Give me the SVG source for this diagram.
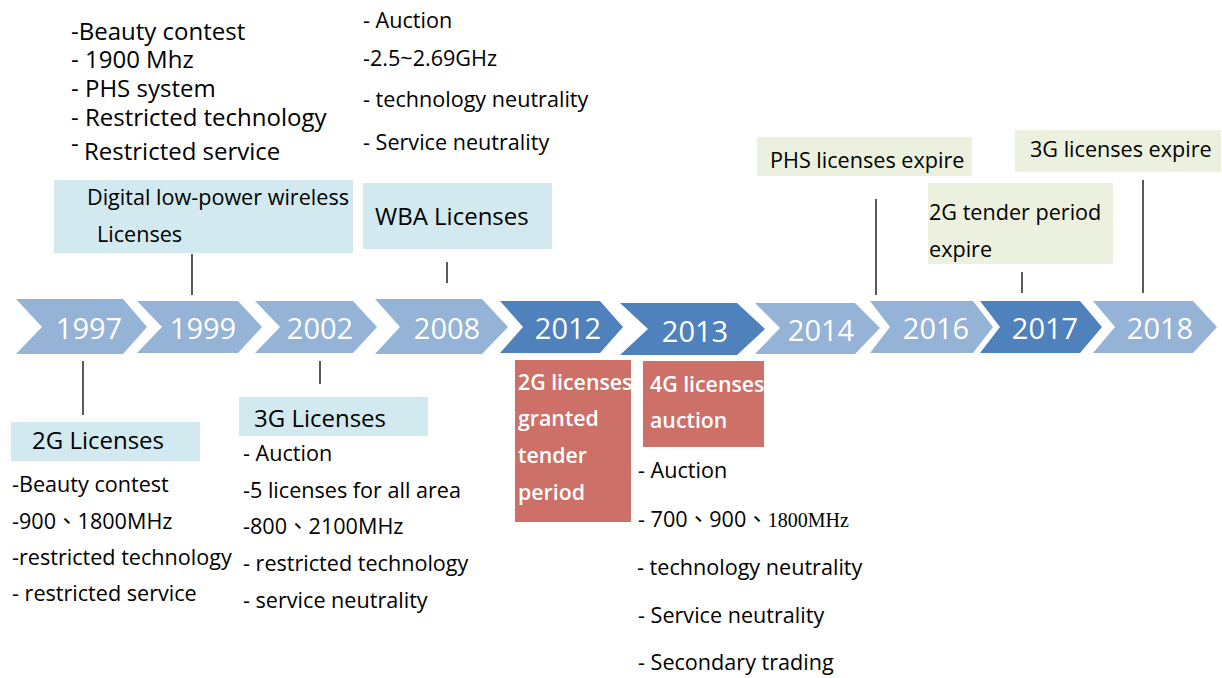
<svg xmlns="http://www.w3.org/2000/svg" width="1222" height="678" viewBox="0 0 1222 678">
<style>
text{font-family:"Open Sans","Noto Sans","Noto Sans CJK TC",sans-serif;fill:#000}
.yr{font-size:29px;fill:#fff;text-anchor:middle}
.lt{fill:#95B3D7}
.dk{fill:#4F81BD}
.bl{fill:#D2E9EF}
.gr{fill:#EBF1DE}
.rd{fill:#CD7068}
.t21{font-size:21.6px}
.t23{font-size:24px}
.w{fill:#fff;font-size:21.3px;font-weight:600}
.ln{stroke:#000;stroke-width:1.3;fill:none}
</style>
<rect width="1222" height="678" fill="#fff"/>
<g id="timeline">
<g id="y1997"><polygon class="lt" points="16,299 123,299 147,327 123,354 16,354 42,327"/><text class="yr" x="89" y="339">1997</text></g>
<g id="y1999"><polygon class="lt" points="137,301 238,301 262,327 238,353 137,353 162,327"/><text class="yr" x="203" y="339">1999</text></g>
<g id="y2002"><polygon class="lt" points="255,301 353,301 377,327 353,353 255,353 280,327"/><text class="yr" x="320" y="339">2002</text></g>
<g id="y2008"><polygon class="lt" points="375,299 482,299 508,327 482,354 375,354 400,327"/><text class="yr" x="447" y="339">2008</text></g>
<g id="y2012"><polygon class="dk" points="500,301 600,301 623,327 600,353 500,353 523,327"/><text class="yr" x="568" y="339">2012</text></g>
<g id="y2013"><polygon class="dk" points="620,303 737,303 765,329 737,355 620,355 648,329"/><text class="yr" x="695" y="342">2013</text></g>
<g id="y2014"><polygon class="lt" points="755,303 855,303 880,328 855,354 755,354 780,328"/><text class="yr" x="821" y="341">2014</text></g>
<g id="y2016"><polygon class="lt" points="870,301 973,301 993,327 973,353 870,353 890,327"/><text class="yr" x="936" y="339">2016</text></g>
<g id="y2017"><polygon class="dk" points="980,301 1080,301 1102,327 1080,353 980,353 1000,327"/><text class="yr" x="1045" y="339">2017</text></g>
<g id="y2018"><polygon class="lt" points="1093,301 1193,301 1217,327 1193,353 1093,353 1115,327"/><text class="yr" x="1160" y="339">2018</text></g>
</g>
<g id="connectors">
<line class="ln" x1="192" y1="254" x2="192" y2="295"/>
<line class="ln" x1="83" y1="361" x2="83" y2="415"/>
<line class="ln" x1="320" y1="361" x2="320" y2="384"/>
<line class="ln" x1="447" y1="262" x2="447" y2="283"/>
<line class="ln" x1="876" y1="199" x2="876" y2="295"/>
<line class="ln" x1="1022" y1="272" x2="1022" y2="293"/>
<line class="ln" x1="1143" y1="180" x2="1143" y2="293" stroke="#555"/>
</g>
<g id="list1999" class="t23">
<text x="71" y="40">-Beauty contest</text>
<text x="71" y="68">- 1900 Mhz</text>
<text x="71" y="97">- PHS system</text>
<text x="71" y="126">- Restricted technology</text>
<text x="71" y="160"><tspan dy="-8">-</tspan><tspan x="84" dy="8">Restricted service</tspan></text>
</g>
<g id="box1999"><rect class="bl" x="54" y="180" width="299" height="73"/><text class="t21" x="87" y="205">Digital low-power wireless</text><text class="t21" x="97" y="242">Licenses</text></g>
<g id="list2008" class="t21">
<text x="363" y="28">- Auction</text>
<text x="363" y="66">-2.5~2.69GHz</text>
<text x="363" y="107">- technology neutrality</text>
<text x="363" y="150">- Service neutrality</text>
</g>
<g id="box2008"><rect class="bl" x="363" y="183" width="189" height="66"/><text class="t23" x="375" y="225">WBA Licenses</text></g>
<g id="box1997"><rect class="bl" x="11" y="422" width="189" height="39"/><text class="t23" x="32" y="449">2G Licenses</text></g>
<g id="list1997" class="t21">
<text x="12" y="492">-Beauty contest</text>
<text x="12" y="529">-900、1800MHz</text>
<text x="12" y="565">-restricted technology</text>
<text x="12" y="601">- restricted service</text>
</g>
<g id="box2002"><rect class="bl" x="239" y="397" width="189" height="39"/><text class="t23" x="254" y="427">3G Licenses</text></g>
<g id="list2002" class="t21">
<text x="243" y="461">- Auction</text>
<text x="243" y="498">-5 licenses for all area</text>
<text x="243" y="534">-800、2100MHz</text>
<text x="243" y="571">- restricted technology</text>
<text x="243" y="608">- service neutrality</text>
</g>
<g id="box2012"><rect class="rd" x="515" y="360" width="116" height="162"/>
<text class="w" x="518" y="390">2G licenses</text><text class="w" x="518" y="426">granted</text><text class="w" x="518" y="463">tender</text><text class="w" x="518" y="500">period</text></g>
<g id="box2013"><rect class="rd" x="643" y="361" width="121" height="86"/>
<text class="w" x="650" y="392">4G licenses</text><text class="w" x="650" y="428">auction</text></g>
<g id="list2013" class="t21">
<text x="638" y="478">- Auction</text>
<text x="638" y="527">- 700、900、<tspan font-family="'Liberation Serif',serif" font-size="20">1800MHz</tspan></text>
<text x="637" y="575">- technology neutrality</text>
<text x="638" y="623">- Service neutrality</text>
<text x="638" y="670">- Secondary trading</text>
</g>
<g id="box2016"><rect class="gr" x="757" y="137" width="215" height="39"/><text class="t21" x="770" y="168">PHS licenses expire</text></g>
<g id="box2017"><rect class="gr" x="928" y="183" width="185" height="81"/><text class="t21" x="929" y="220">2G tender period</text><text class="t21" x="929" y="257">expire</text></g>
<g id="box2018"><rect class="gr" x="1015" y="130" width="206" height="42"/><text class="t21" x="1030" y="157">3G licenses expire</text></g>
</svg>
